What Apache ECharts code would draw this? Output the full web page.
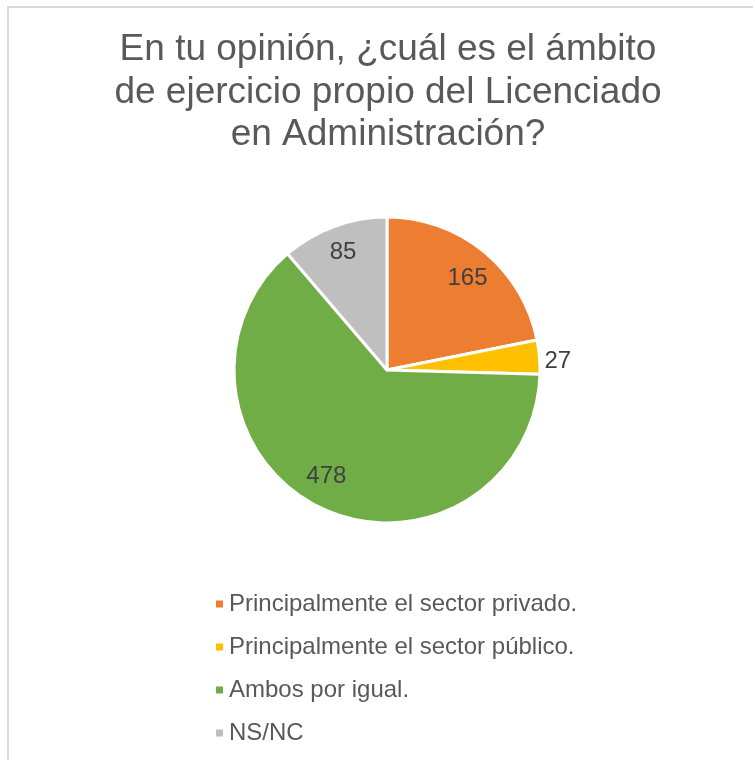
<!DOCTYPE html>
<html>
<head>
<meta charset="utf-8">
<script src="https://cdn.jsdelivr.net/npm/echarts@6/dist/echarts.min.js"></script>
<style>
  html, body { margin: 0; padding: 0; background: #fff; }
  #chart { width: 753px; height: 760px; }
</style>
</head>
<body>
<div id="chart"></div>
<script>
const titleText = 'En tu opinión, ¿cuál es el ámbito\nde ejercicio propio del Licenciado\nen Administración?'
const categories = [
  'Principalmente el sector privado.',
  'Principalmente el sector público.',
  'Ambos por igual.',
  'NS/NC'
]
const values = [165, 27, 478, 85]
const colors = ['#ED7D31', '#FFC000', '#70AD47', '#BFBFBF']

const font = '"Liberation Sans", Arial, sans-serif'
const center = [387, 370]
const pieRadius = 153

// small slices get their label outside, the rest inside near the rim
const outsideIdx = values.map((v, i) => (v < 50 ? i : -1)).filter((i) => i >= 0)
// small nudges (px) to mimic the "best fit" spots used in the original
const labelNudge = [[0, 7], [0, 4], [-6, -8], [0, 1]]

const pieData = categories.map((name, i) => ({
  name,
  value: values[i],
  itemStyle: { color: colors[i] },
  label: { show: outsideIdx.includes(i), offset: labelNudge[i] }
}))
const labelData = categories.map((name, i) => ({
  name,
  value: values[i],
  label: { show: !outsideIdx.includes(i), offset: labelNudge[i] }
}))

const chart = echarts.init(document.getElementById('chart'))
const option = {
  backgroundColor: '#fff',
  animation: false,
  legend: {
    orient: 'vertical',
    left: 209,
    top: 587,
    icon: 'rect',
    itemWidth: 9,
    itemHeight: 9,
    itemGap: 19,
    data: categories,
    textStyle: {
      fontFamily: font,
      fontSize: 24,
      lineHeight: 24,
      color: '#595959'
    }
  },
  graphic: [
    {
      type: 'polyline',
      silent: true,
      shape: { points: [[8, 760], [8, 7], [753, 7]] },
      style: { stroke: '#D9D9D9', lineWidth: 2, fill: null }
    },
    {
      type: 'text',
      silent: true,
      x: 388,
      y: 29,
      style: {
        text: titleText,
        textAlign: 'center',
        textVerticalAlign: 'top',
        fontFamily: font,
        fontSize: 37,
        lineHeight: 42.5,
        fill: '#595959'
      }
    }
  ],
  series: [
    {
      type: 'pie',
      center,
      radius: pieRadius,
      startAngle: 90,
      clockwise: true,
      data: pieData,
      itemStyle: { borderColor: '#fff', borderWidth: 3 },
      label: {
        position: 'outside',
        formatter: '{c}',
        fontFamily: font,
        fontSize: 24,
        color: '#404040',
        distanceToLabelLine: 5
      },
      labelLine: { show: false, length: 0, length2: 0 },
      emphasis: { disabled: true }
    },
    {
      // transparent ring only used to place inner labels near 0.8 of the pie radius
      type: 'pie',
      center,
      radius: pieRadius * 1.62,
      startAngle: 90,
      clockwise: true,
      silent: true,
      data: labelData,
      itemStyle: { color: 'rgba(0,0,0,0)' },
      label: {
        position: 'inside',
        formatter: '{c}',
        fontFamily: font,
        fontSize: 24,
        color: '#404040'
      },
      labelLine: { show: false },
      emphasis: { disabled: true }
    }
  ]
}
chart.setOption(option)
</script>
</body>
</html>
